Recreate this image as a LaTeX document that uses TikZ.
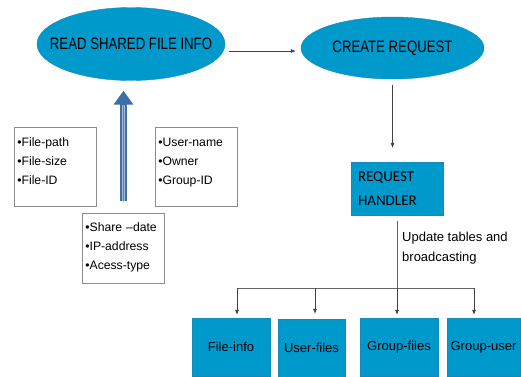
\documentclass[tikz,border=0pt]{standalone}
\usepackage{fontspec}
\setmainfont{Liberation Sans}
\newfontfamily\calfont{Carlito}
\usepackage{xcolor}
\usetikzlibrary{shapes.geometric,arrows.meta,positioning}
\definecolor{procblue}{HTML}{0099CC}
\definecolor{procedge}{HTML}{1689B5}
\definecolor{upblue}{HTML}{3D6FA6}
\definecolor{uplight}{HTML}{A3B8D2}
\newcommand{\proctext}[1]{\makebox[0pt]{\scalebox{0.8}[1]{\fontsize{16.5}{18}\selectfont #1}}}
\tikzset{
  proc/.style={ellipse, fill=procblue, draw=procedge, line width=0.4pt, inner sep=0pt},
  attr/.style={rectangle, draw=black!45, line width=0.7pt, fill=white, align=left,
               inner xsep=3pt, inner ysep=0pt, text width=76pt, text height=19pt, text depth=60pt,
               font=\fontsize{12.2}{19}\selectfont},
  tab/.style={rectangle, fill=procblue, draw=procedge, line width=0.4pt, inner sep=0pt,
              minimum height=58pt, font=\fontsize{13}{15}\selectfont},
  ar/.style={-{Latex[length=5pt,width=4pt]}, line width=0.6pt, draw=black!75},
  ln/.style={line width=0.6pt, draw=black!60}
}
\begin{document}
\begin{tikzpicture}[
  x=1pt, y=-1pt,
  hbox/.style={rectangle, fill=procblue, draw=procedge, line width=0.4pt, align=left,
               inner xsep=7pt, inner ysep=0pt, text width=78pt, minimum height=53pt,
               font=\calfont\fontsize{15}{24}\selectfont},
  uparrow/.style={-{Triangle[length=14pt,width=19pt]}, line width=7pt, draw=upblue, fill=upblue}
]
\useasboundingbox (0,0) rectangle (521,376);
\node[proc, minimum width=188pt, minimum height=73pt] (read) at (131,44) {\proctext{READ SHARED FILE INFO}};
\node[proc, minimum width=183pt, minimum height=62pt] (create) at (392.5,48) {\proctext{CREATE REQUEST}};
\node[attr, anchor=north west] (fmeta) at (14,127) {•File-path\\•File-size\\•File-ID};
\node[attr, anchor=north west] (umeta) at (155,127) {•User-name\\•Owner\\•Group-ID};
\node[attr, text height=18pt, text depth=52pt, anchor=north west] (smeta) at (82,213) {•Share –date\\•IP-address\\•Acess-type};
\node[hbox] (handler) at (397,188.5) {REQUEST\\HANDLER};
\node[anchor=west, align=left, inner sep=0pt, font=\fontsize{13}{20}\selectfont] (upd) at (402,248) {Update tables and\\broadcasting};
\node[tab, minimum width=78pt] (fi) at (231,347) {File-info};
\node[tab, minimum width=67pt] (uf) at (311.5,348) {User-files};
\node[tab, minimum width=78pt] (gf) at (399,347) {Group-files};
\node[tab, minimum width=73pt] (gu) at (483.5,347) {Group-user};
\coordinate (src) at (123.5,201);
\coordinate (bus) at (397,288);
\draw[uparrow] (src) -- ([shift={(-7.5,10)}]read.south);
\draw[line width=3.6pt, uplight, shorten >=14pt] (src) -- ([shift={(-7.5,10)}]read.south);
\draw[line width=0.9pt, upblue!85, shorten >=14pt] (src) -- ([shift={(-7.5,10)}]read.south);
\draw[ar] ([shift={(4,7)}]read.east) -- ([shift={(-5,3)}]create.west);
\draw[ar] ([yshift=-6pt]create.south) -- ([yshift=14pt]create.south |- handler.north);
\draw[ln] ([yshift=-6pt]handler.south) -- (bus);
\draw[ln] ([xshift=6pt]fi.north |- bus) -- ([xshift=-9.5pt]gu.north |- bus);
\draw[ar, shorten >=3pt] ([xshift=6pt]fi.north |- bus) -- ([xshift=6pt]fi.north);
\draw[ar, shorten >=5pt] ([xshift=3.5pt]uf.north |- bus) -- ([xshift=3.5pt]uf.north);
\draw[ar, shorten >=3pt] ([xshift=-2pt]gf.north |- bus) -- ([xshift=-2pt]gf.north);
\draw[ar, shorten >=3pt] ([xshift=-9.5pt]gu.north |- bus) -- ([xshift=-9.5pt]gu.north);
\end{tikzpicture}
\end{document}
